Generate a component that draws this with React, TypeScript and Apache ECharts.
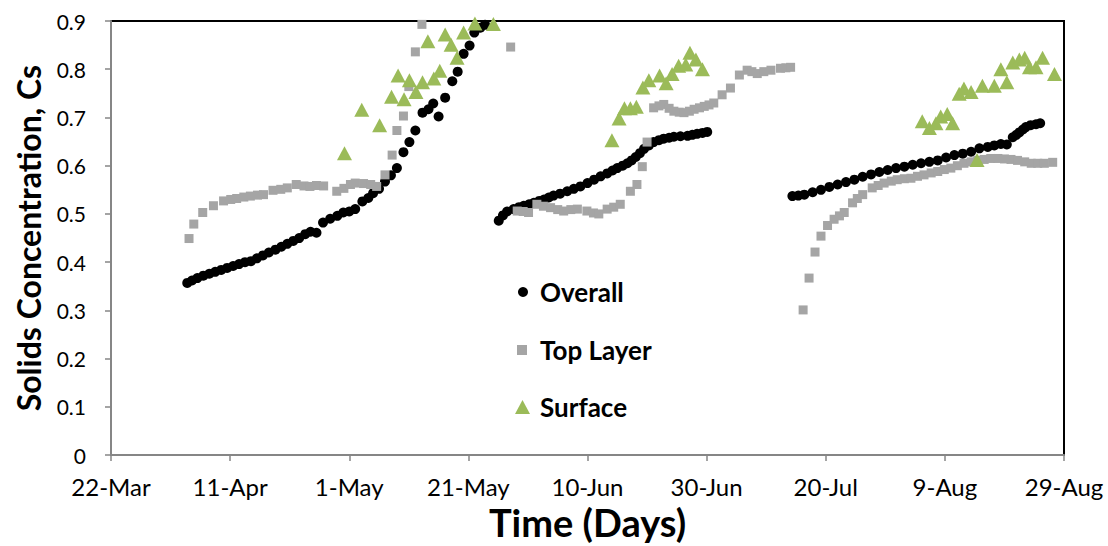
import React, { useEffect, useRef } from "react";
import * as echarts from "echarts";

// x = days since 22-Mar, y = solids concentration
const xTickLabels = ["22-Mar", "11-Apr", "1-May", "21-May", "10-Jun", "30-Jun", "20-Jul", "9-Aug", "29-Aug"];

const overall: number[][] = [
  [12.8,0.357],[13.6,0.362],[14.5,0.367],[15.5,0.372],[16.5,0.376],[17.5,0.380],[18.5,0.384],[19.5,0.388],[20.5,0.392],[21.5,0.396],[22.5,0.400],[23.5,0.402],[24.5,0.408],[25.5,0.414],[26.5,0.420],[27.6,0.426],[28.6,0.432],[29.6,0.438],[30.6,0.444],[31.6,0.450],[32.6,0.458],[33.5,0.463],[34.5,0.461],[35.6,0.482],[36.8,0.490],[38.0,0.496],[39.0,0.503],[40.0,0.505],[41.0,0.510],[42.2,0.526],[43.2,0.533],[44.0,0.543],[45.0,0.552],[46.0,0.567],[47.0,0.580],[48.0,0.595],[49.1,0.628],[50.1,0.649],[51.1,0.673],[52.3,0.710],[53.3,0.717],[54.1,0.729],[55.0,0.702],[56.1,0.741],[57.3,0.775],[58.2,0.795],[59.2,0.832],[60.2,0.849],[61.0,0.876],[62.0,0.886],[62.8,0.892],
  [65.1,0.486],[65.8,0.497],[66.5,0.505],[67.6,0.510],[68.5,0.514],[69.3,0.517],[70.2,0.520],[71.0,0.523],[71.9,0.527],[72.7,0.530],[73.5,0.534],[74.3,0.538],[75.4,0.542],[76.6,0.547],[77.7,0.552],[78.8,0.557],[80.0,0.564],[81.1,0.571],[82.2,0.578],[83.3,0.584],[84.2,0.590],[85.0,0.595],[85.9,0.600],[86.7,0.605],[87.4,0.611],[88.1,0.618],[88.8,0.626],[89.5,0.635],[90.3,0.642],[91.1,0.649],[92.0,0.653],[92.8,0.656],[93.7,0.658],[94.5,0.660],[95.6,0.661],[96.8,0.662],[97.6,0.664],[98.4,0.666],[99.3,0.668],[100.1,0.670],
  [114.4,0.537],[115.4,0.538],[116.4,0.540],[117.8,0.545],[119.2,0.550],[120.6,0.556],[122.0,0.561],[123.4,0.566],[124.8,0.571],[126.2,0.577],[127.6,0.582],[129.0,0.587],[130.4,0.591],[131.8,0.595],[133.2,0.598],[134.6,0.602],[136.0,0.605],[137.4,0.608],[138.8,0.611],[140.2,0.617],[141.6,0.622],[143.0,0.625],[144.4,0.629],[145.8,0.636],[147.2,0.639],[148.3,0.642],[149.4,0.645],[150.4,0.644],[151.4,0.659],[152.0,0.664],[152.5,0.669],[153.1,0.675],[153.6,0.680],[154.4,0.684],[155.3,0.686],[156.0,0.688]
];

const topLayer: number[][] = [
  [13.1,0.449],[13.9,0.479],[15.4,0.503],[17.2,0.517],[18.9,0.527],[20.1,0.530],[21.1,0.532],[22.3,0.535],[23.4,0.537],[24.6,0.539],[25.6,0.540],[27.2,0.549],[28.5,0.551],[29.6,0.554],[31.1,0.561],[32.4,0.558],[33.4,0.557],[34.5,0.559],[35.7,0.558],[37.9,0.547],[39.1,0.553],[40.2,0.561],[41.0,0.564],[42.4,0.563],[43.6,0.561],[44.6,0.557],[46.0,0.581],[47.2,0.622],[48.0,0.673],[49.1,0.703],[50.0,0.764],[51.1,0.836],[52.2,0.893],[67.1,0.846],
  [68.2,0.506],[69.2,0.505],[70.1,0.503],[71.5,0.520],[72.6,0.516],[73.8,0.513],[75.0,0.509],[76.0,0.506],[77.2,0.509],[78.3,0.510],[79.9,0.506],[81.0,0.502],[81.9,0.500],[83.3,0.510],[84.4,0.514],[85.5,0.520],[87.2,0.547],[88.3,0.561],[89.2,0.598],[90.0,0.649],[91.1,0.720],[92.0,0.724],[92.8,0.727],[93.7,0.719],[94.5,0.713],[95.4,0.711],[96.2,0.710],[97.1,0.713],[97.9,0.717],[98.8,0.720],[99.6,0.723],[100.4,0.726],[101.2,0.730],[102.6,0.747],[104.0,0.761],[105.5,0.788],[106.8,0.798],[107.6,0.795],[108.5,0.791],[109.6,0.795],[110.8,0.798],[112.4,0.802],[113.3,0.803],[114.1,0.804],
  [116.2,0.301],[117.2,0.367],[118.2,0.421],[119.2,0.454],[120.3,0.476],[121.4,0.489],[122.3,0.496],[123.1,0.503],[124.5,0.523],[125.3,0.532],[126.2,0.540],[127.8,0.554],[128.8,0.559],[129.8,0.564],[131.0,0.568],[132.0,0.571],[133.2,0.573],[134.3,0.574],[135.4,0.578],[136.5,0.581],[137.7,0.585],[138.8,0.588],[139.9,0.592],[141.0,0.595],[142.1,0.600],[143.2,0.605],[144.4,0.608],[145.5,0.611],[146.6,0.613],[147.7,0.615],[148.9,0.615],[150.0,0.614],[151.1,0.613],[152.2,0.611],[153.4,0.608],[154.5,0.605],[155.6,0.605],[156.7,0.605],[158.1,0.607]
];

const surface: number[][] = [
  [39.2,0.626],[42.1,0.716],[45.1,0.684],[47.1,0.743],[48.2,0.787],[49.2,0.738],[50.1,0.777],[51.2,0.753],[52.3,0.773],[53.2,0.858],[54.2,0.781],[55.2,0.797],[56.1,0.872],[57.1,0.851],[58.1,0.824],[59.2,0.876],[61.1,0.895],[64.2,0.894],
  [84.1,0.653],[85.3,0.698],[86.2,0.719],[87.2,0.719],[88.2,0.722],[89.3,0.762],[90.3,0.777],[92.1,0.787],[93.2,0.771],[94.2,0.790],[95.3,0.807],[96.5,0.810],[97.2,0.834],[98.2,0.820],[99.3,0.800],
  [136.2,0.692],[137.4,0.678],[138.5,0.688],[139.3,0.702],[140.4,0.707],[141.3,0.688],[142.4,0.749],[143.2,0.760],[144.4,0.753],[145.4,0.612],[146.3,0.766],[148.3,0.766],[149.4,0.800],[150.4,0.773],[151.4,0.814],[152.5,0.820],[153.4,0.824],[154.2,0.804],[155.3,0.804],[156.4,0.824],[158.4,0.790]
];

const FONT = "Lato, 'Open Sans', sans-serif";

export default function App() {
  const ref = useRef<HTMLDivElement>(null);
  useEffect(() => {
    if (!ref.current) return;
    const chart = echarts.init(ref.current, null, { renderer: "svg" });
    const legendText = { fontFamily: FONT, fontWeight: "bold" as const, fontSize: 26, color: "#000" };
    chart.setOption({
      animation: false,
      backgroundColor: "#fff",
      grid: { left: 111, right: 44, top: 21, bottom: 84, show: true, borderColor: "#000", borderWidth: 2, backgroundColor: "transparent" },
      legend: [
        { data: [{ name: "Overall", icon: "circle" }], orient: "vertical", padding: 0, left: 518, top: 279, itemWidth: 10, itemHeight: 10, textStyle: { ...legendText, padding: [0, 0, 0, 7] } },
        { data: [{ name: "Top Layer", icon: "rect" }], orient: "vertical", padding: 0, left: 517, top: 337, itemWidth: 10, itemHeight: 10, textStyle: { ...legendText, padding: [0, 0, 0, 8] } },
        { data: [{ name: "Surface", icon: "triangle" }], orient: "vertical", padding: 0, left: 515, top: 394, itemWidth: 15, itemHeight: 14, textStyle: { ...legendText, padding: [0, 0, 0, 5] } },
      ],
      xAxis: {
        type: "value", min: 0, max: 160, interval: 20,
        name: "Time (Days)", nameLocation: "middle", nameGap: 47,
        nameTextStyle: { fontFamily: FONT, fontWeight: "bold", fontSize: 38, color: "#000" },
        axisLine: { show: true, onZero: false, lineStyle: { color: "#868686", width: 2 } },
        axisTick: { show: true, inside: false, length: 6, lineStyle: { color: "#868686", width: 1.5 } },
        axisLabel: { margin: 19, fontFamily: FONT, fontSize: 24, color: "#000", formatter: (v: number) => xTickLabels[Math.round(v / 20)] ?? "" },
        splitLine: { show: false },
      },
      yAxis: {
        type: "value", min: 0, max: 0.9, interval: 0.1,
        name: "Solids Concentration, Cs", nameLocation: "middle", nameGap: 67,
        nameTextStyle: { fontFamily: FONT, fontWeight: "bold", fontSize: 32, color: "#000" },
        axisLine: { show: true, lineStyle: { color: "#868686", width: 2 } },
        axisTick: { show: true, inside: false, length: 6, lineStyle: { color: "#868686", width: 1.5 } },
        axisLabel: { margin: 25, fontFamily: FONT, fontSize: 21, color: "#000" },
        splitLine: { show: false },
      },
      series: [
        { name: "Overall", type: "scatter", data: overall, symbol: "circle", symbolSize: 10, clip: false, itemStyle: { color: "#000", opacity: 1 } },
        { name: "Top Layer", type: "scatter", data: topLayer, symbol: "rect", symbolSize: 9, clip: false, itemStyle: { color: "#A5A5A5", opacity: 1 } },
        { name: "Surface", type: "scatter", data: surface, symbol: "triangle", symbolSize: [15, 14], clip: false, itemStyle: { color: "#9BBB59", opacity: 1 } },
      ],
    });
    return () => chart.dispose();
  }, []);
  return <div ref={ref} style={{ position: "fixed", left: 0, top: 0, width: 1108, height: 546 }} />;
}
